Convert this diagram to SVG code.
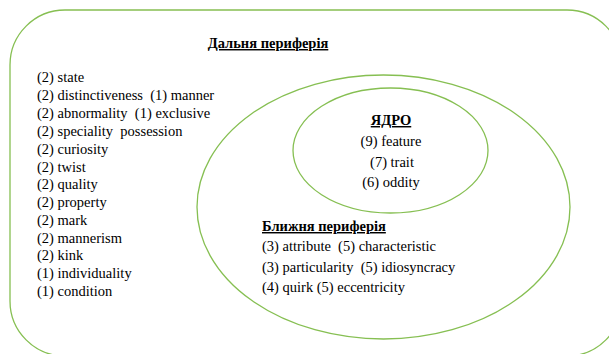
<svg xmlns="http://www.w3.org/2000/svg" width="609" height="354" viewBox="0 0 609 354">
<defs>
<style>
.shape{fill:none;stroke:#86bf52;stroke-width:1.3}
</style>
</defs>
<rect width="609" height="354" fill="#ffffff"/>
<g id="far-periphery">
<rect class="shape" x="10" y="10" width="612" height="346" rx="55" ry="55"/>
<text x="268" y="48" font-family="Liberation Serif" font-size="14.5" font-weight="bold" text-decoration="underline" text-anchor="middle">Дальня периферія</text>
<text x="37" y="82" font-family="Liberation Serif" font-size="14.5">(2) state</text>
<text x="37" y="100" font-family="Liberation Serif" font-size="14.5" xml:space="preserve">(2) distinctiveness  (1) manner</text>
<text x="37" y="118" font-family="Liberation Serif" font-size="14.5" xml:space="preserve">(2) abnormality  (1) exclusive</text>
<text x="37" y="136" font-family="Liberation Serif" font-size="14.5" xml:space="preserve">(2) speciality  possession</text>
<text x="37" y="154" font-family="Liberation Serif" font-size="14.5">(2) curiosity</text>
<text x="37" y="172" font-family="Liberation Serif" font-size="14.5">(2) twist</text>
<text x="37" y="189" font-family="Liberation Serif" font-size="14.5">(2) quality</text>
<text x="37" y="207" font-family="Liberation Serif" font-size="14.5">(2) property</text>
<text x="37" y="225" font-family="Liberation Serif" font-size="14.5">(2) mark</text>
<text x="37" y="243" font-family="Liberation Serif" font-size="14.5">(2) mannerism</text>
<text x="37" y="260" font-family="Liberation Serif" font-size="14.5">(2) kink</text>
<text x="37" y="278" font-family="Liberation Serif" font-size="14.5">(1) individuality</text>
<text x="37" y="296" font-family="Liberation Serif" font-size="14.5">(1) condition</text>
</g>
<g id="near-periphery">
<ellipse class="shape" cx="383.5" cy="207" rx="186.5" ry="132"/>
<text x="262" y="231" font-family="Liberation Serif" font-size="14.5" font-weight="bold" text-decoration="underline">Ближня периферія</text>
<text x="262" y="251" font-family="Liberation Serif" font-size="14.5" xml:space="preserve">(3) attribute  (5) characteristic</text>
<text x="262" y="272" font-family="Liberation Serif" font-size="14.5" xml:space="preserve">(3) particularity  (5) idiosyncracy</text>
<text x="262" y="292" font-family="Liberation Serif" font-size="14.5">(4) quirk (5) eccentricity</text>
</g>
<g id="core">
<ellipse class="shape" cx="390.5" cy="150.5" rx="97.5" ry="62.5"/>
<text x="391" y="125" font-family="Liberation Serif" font-size="14.5" font-weight="bold" text-decoration="underline" text-anchor="middle">ЯДРО</text>
<text x="391" y="146" font-family="Liberation Serif" font-size="14.5" text-anchor="middle">(9) feature</text>
<text x="392" y="167" font-family="Liberation Serif" font-size="14.5" text-anchor="middle">(7) trait</text>
<text x="391" y="187" font-family="Liberation Serif" font-size="14.5" text-anchor="middle">(6) oddity</text>
</g>
<g id="connectors"></g>
</svg>
